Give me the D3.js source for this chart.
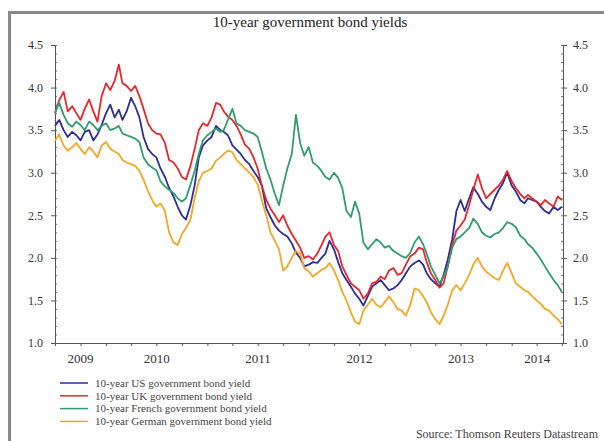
<!DOCTYPE html>
<html>
<head>
<meta charset="utf-8">
<script src="https://cdn.jsdelivr.net/npm/d3@7"></script>
<style>
  html, body { margin: 0; padding: 0; background: #fff; }
  svg { display: block; }
  text { font-family: "Liberation Serif", "DejaVu Serif", serif; fill: #333; }
</style>
</head>
<body>
<svg id="chart" width="604" height="441"></svg>
<script>
// ---- data (semi-monthly readings, 1st and 16th of each month, Jul 2009 -> Jul 2014) ----
const startYear = 2009, startMonth = 6; // July 2009
const seriesNames = [
  "10-year US government bond yield",
  "10-year UK government bond yield",
  "10-year French government bond yield",
  "10-year German government bond yield"
];
const usYield = [
  3.55,3.62,3.50,3.42,3.48,3.44,3.38,3.48,3.50,3.38,3.45,3.56,3.70,3.80,3.65,3.74,3.62,3.72,3.88,3.78,
  3.65,3.42,3.28,3.22,3.18,3.05,2.95,2.82,2.72,2.60,2.50,2.45,2.62,2.85,3.18,3.32,3.38,3.42,3.55,3.50,
  3.48,3.44,3.32,3.27,3.22,3.15,3.10,3.02,2.95,2.85,2.58,2.48,2.38,2.32,2.28,2.25,2.17,2.06,2.00,1.90,
  1.92,1.95,1.94,2.00,2.05,2.20,2.10,1.95,1.82,1.74,1.66,1.58,1.52,1.44,1.55,1.66,1.70,1.74,1.68,1.62,
  1.64,1.68,1.74,1.82,1.90,1.94,1.97,1.92,1.82,1.75,1.70,1.66,1.80,1.98,2.22,2.55,2.68,2.55,2.70,2.83,
  2.75,2.66,2.60,2.56,2.70,2.80,2.88,3.00,2.85,2.78,2.68,2.64,2.70,2.68,2.66,2.60,2.55,2.52,2.60,2.56,
  2.60
];
const ukYield = [
  3.70,3.85,3.95,3.72,3.78,3.70,3.62,3.75,3.86,3.72,3.60,3.90,4.05,3.97,4.08,4.27,4.05,4.02,3.96,4.02,
  3.90,3.75,3.58,3.50,3.46,3.45,3.35,3.15,3.12,3.05,2.95,2.92,3.08,3.28,3.50,3.58,3.55,3.65,3.82,3.80,
  3.72,3.66,3.62,3.55,3.45,3.33,3.28,3.18,3.05,2.85,2.68,2.58,2.50,2.42,2.50,2.38,2.28,2.20,2.12,2.00,
  2.02,1.98,2.05,2.15,2.25,2.30,2.15,2.08,1.90,1.80,1.70,1.66,1.62,1.52,1.58,1.70,1.72,1.78,1.75,1.85,
  1.88,1.80,1.82,1.92,2.02,2.05,2.12,2.10,1.95,1.82,1.74,1.65,1.70,1.90,2.15,2.32,2.38,2.45,2.62,2.80,
  2.98,2.82,2.70,2.75,2.80,2.85,2.92,3.02,2.90,2.82,2.75,2.70,2.74,2.70,2.66,2.62,2.68,2.64,2.60,2.72,
  2.68
];
const frYield = [
  3.70,3.82,3.68,3.58,3.54,3.60,3.56,3.50,3.60,3.56,3.50,3.55,3.58,3.50,3.52,3.55,3.46,3.44,3.42,3.40,
  3.36,3.18,3.10,3.06,3.03,2.90,2.84,2.80,2.76,2.70,2.66,2.70,2.86,3.02,3.22,3.38,3.44,3.48,3.52,3.48,
  3.50,3.62,3.75,3.58,3.55,3.50,3.48,3.46,3.42,3.25,3.05,2.92,2.75,2.62,2.85,3.05,3.22,3.68,3.35,3.20,
  3.30,3.12,3.08,3.02,2.95,2.92,3.00,2.94,2.82,2.55,2.48,2.66,2.52,2.18,2.10,2.16,2.22,2.18,2.12,2.14,
  2.08,2.05,2.02,2.00,2.06,2.18,2.25,2.16,2.05,1.90,1.80,1.70,1.78,1.90,2.12,2.22,2.25,2.30,2.35,2.46,
  2.40,2.30,2.26,2.24,2.28,2.30,2.35,2.42,2.40,2.36,2.26,2.22,2.16,2.12,2.05,1.98,1.90,1.82,1.74,1.68,
  1.60
];
const deYield = [
  3.38,3.45,3.32,3.26,3.30,3.35,3.28,3.22,3.30,3.25,3.18,3.32,3.36,3.28,3.25,3.22,3.15,3.12,3.10,3.08,
  3.02,2.92,2.78,2.68,2.60,2.64,2.55,2.30,2.18,2.15,2.28,2.35,2.45,2.70,2.90,3.00,3.02,3.05,3.14,3.18,
  3.22,3.26,3.24,3.15,3.10,3.05,3.00,2.95,2.86,2.68,2.50,2.30,2.20,2.10,1.85,1.90,2.00,2.08,2.05,1.88,
  1.84,1.78,1.82,1.86,1.88,1.94,1.85,1.74,1.60,1.50,1.36,1.25,1.22,1.38,1.45,1.52,1.45,1.42,1.48,1.55,
  1.48,1.40,1.38,1.32,1.45,1.64,1.62,1.55,1.48,1.36,1.28,1.22,1.32,1.45,1.62,1.68,1.62,1.70,1.80,1.92,
  2.00,1.90,1.84,1.80,1.76,1.74,1.85,1.94,1.82,1.70,1.66,1.62,1.60,1.55,1.50,1.46,1.40,1.38,1.32,1.28,
  1.22
];
const seriesValues = [usYield, ukYield, frYield, deYield];
const seriesColors = ["#2b2d96", "#e8262b", "#2f9d6c", "#f5a623"];
const yTicks = [1.0, 1.5, 2.0, 2.5, 3.0, 3.5, 4.0, 4.5];
const yearLabels = [2009, 2010, 2011, 2012, 2013, 2014];

// ---- layout ----
const svg = d3.select("#chart");
const L = 55, R = 563, T = 45, B = 343;

const dates = usYield.map((_, i) => new Date(startYear, startMonth + Math.floor(i / 2), i % 2 ? 16 : 1));
const x = d3.scaleTime().domain([new Date(2009, 6, 1), new Date(2014, 6, 5)]).range([L, R]);
const y = d3.scaleLinear().domain([1.0, 4.5]).range([B, T]);

// frame (grey bars on top and left)
svg.append("rect").attr("x", 8).attr("y", 11).attr("width", 596).attr("height", 3).attr("fill", "#8a8a8a");
svg.append("rect").attr("x", 8).attr("y", 11).attr("width", 3).attr("height", 430).attr("fill", "#8a8a8a");

// title
svg.append("text").attr("x", 310).attr("y", 27).attr("text-anchor", "middle")
  .style("font-size", "15px").style("fill", "#222").text("10-year government bond yields");

// axes
const minor = d3.range(10, 46).map(d => d / 10);
function styleAxis(g){
  g.select(".domain").attr("stroke", "#555");
  g.selectAll(".tick line").attr("stroke", "#555");
  g.selectAll(".tick text").style("font-size", "12px").style("font-family", '"Liberation Serif", serif').attr("fill", "#444");
}
svg.append("g").attr("transform", `translate(${L},0)`)
  .call(d3.axisLeft(y).tickValues(minor).tickSize(-2).tickFormat("").tickSizeOuter(0))
  .call(g => { g.select(".domain").remove(); g.selectAll("line").attr("stroke", "#777"); });
svg.append("g").attr("transform", `translate(${R},0)`)
  .call(d3.axisRight(y).tickValues(minor).tickSize(-2).tickFormat("").tickSizeOuter(0))
  .call(g => { g.select(".domain").remove(); g.selectAll("line").attr("stroke", "#777"); });
svg.append("g").attr("transform", `translate(${L},0)`)
  .call(d3.axisLeft(y).tickValues(yTicks).tickFormat(d3.format(".1f")).tickSize(4).tickPadding(8).tickSizeOuter(0))
  .call(styleAxis);
svg.append("g").attr("transform", `translate(${R},0)`)
  .call(d3.axisRight(y).tickValues(yTicks).tickFormat(d3.format(".1f")).tickSize(4).tickPadding(6).tickSizeOuter(0))
  .call(styleAxis);
svg.append("g").attr("transform", `translate(0,${B})`)
  .call(d3.axisBottom(x).ticks(d3.timeMonth.every(3)).tickFormat("").tickSize(3).tickSizeOuter(0))
  .call(styleAxis);

// year labels centred on the visible part of each year
const [d0, d1] = x.domain();
svg.append("g").selectAll("text").data(yearLabels).join("text")
  .attr("x", yr => {
    const a = new Date(Math.max(d0, new Date(yr, 0, 1)));
    const b = new Date(Math.min(d1, new Date(yr + 1, 0, 1)));
    return (x(a) + x(b)) / 2;
  })
  .attr("y", 363).attr("text-anchor", "middle")
  .style("font-size", "13px").style("fill", "#333").text(d => d);

// lines
const line = d3.line().x((d, i) => x(dates[i])).y(d => y(d));
svg.append("g").selectAll("path").data(seriesValues).join("path")
  .attr("d", line).attr("fill", "none")
  .attr("stroke", (d, i) => seriesColors[i])
  .attr("stroke-width", 1.8).attr("stroke-linejoin", "round");

// legend
const lg = svg.append("g").selectAll("g").data(seriesNames).join("g")
  .attr("transform", (d, i) => `translate(0,${383 + i * 12.8})`);
lg.append("line").attr("x1", 60).attr("x2", 88).attr("y1", 0).attr("y2", 0)
  .attr("stroke", (d, i) => seriesColors[i]).attr("stroke-width", 1.5);
lg.append("text").attr("x", 95).attr("y", 0).attr("dy", "0.35em")
  .style("font-size", "11px").style("fill", "#444").text(d => d);

// source
svg.append("text").attr("x", 598).attr("y", 438).attr("text-anchor", "end")
  .style("font-size", "12px").style("fill", "#444").text("Source: Thomson Reuters Datastream");
</script>
</body>
</html>
